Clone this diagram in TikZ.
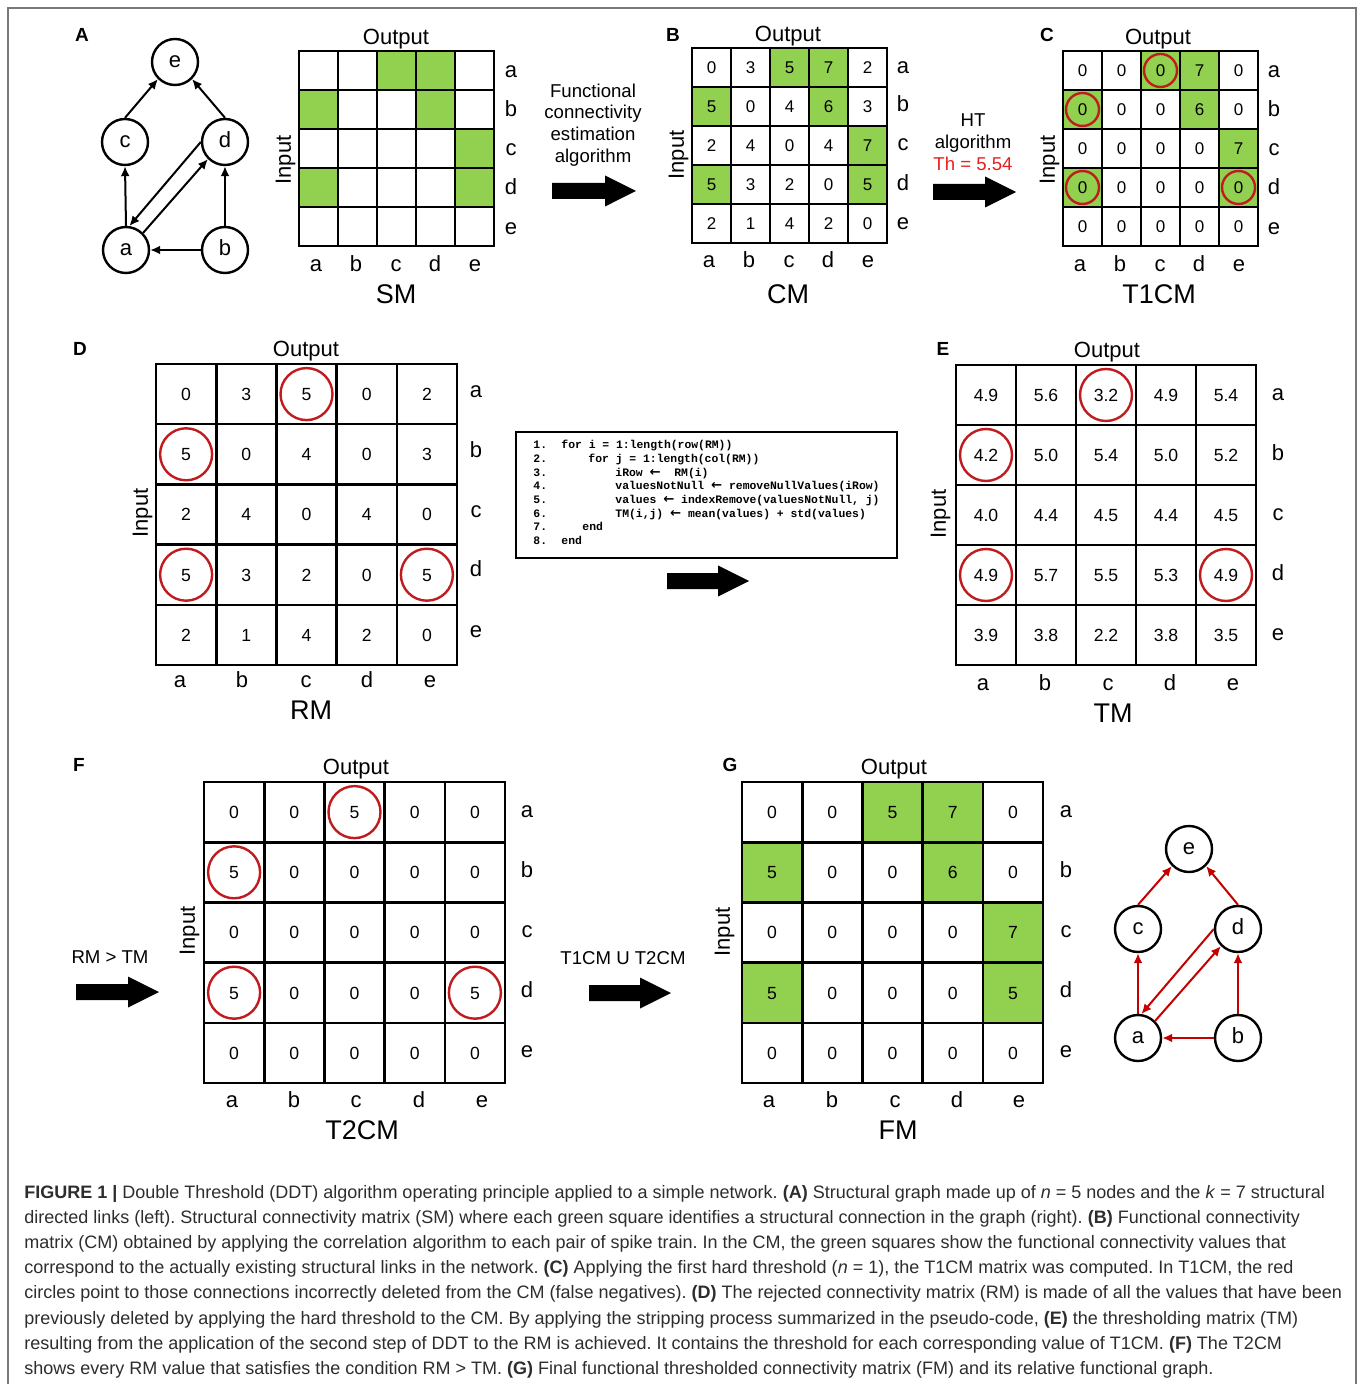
\documentclass[tikz,border=0pt]{standalone}
\usepackage{fontspec}
\setmainfont{Liberation Sans}
\newfontfamily\codefont{Liberation Mono}
\newfontfamily\symfont{DejaVu Sans}
\usetikzlibrary{arrows.meta}
\definecolor{cellgreen}{RGB}{146,208,80}
\definecolor{circred}{RGB}{192,28,32}
\definecolor{thred}{RGB}{232,32,32}
\definecolor{edgered}{RGB}{196,0,0}
\definecolor{capgray}{RGB}{45,45,45}
\definecolor{framegray}{RGB}{120,120,120}
\tikzset{
  gridline/.style={line width=1.3pt, line cap=rect},
  smallnum/.style={inner sep=0pt, text height=6.1pt, text depth=0pt, font=\fontsize{8.5}{10}\selectfont},
  bignum/.style={inner sep=0pt, text height=6.3pt, text depth=0pt, font=\fontsize{8.8}{10}\selectfont},
  axlab/.style={inner sep=0pt, text height=5.7pt, text depth=0pt, font=\fontsize{11}{13}\selectfont},
  outlab/.style={inner sep=0pt, text height=7.9pt, text depth=0pt, font=\fontsize{11}{13}\selectfont},
  ptitle/.style={inner sep=0pt, text height=9.7pt, text depth=0pt, font=\fontsize{13.5}{16}\selectfont},
  plet/.style={inner sep=0pt, text height=6.8pt, text depth=0pt, font=\bfseries\fontsize{9.5}{11}\selectfont},
  arrlab/.style={inner sep=0pt, align=center, font=\fontsize{9.3}{10.9}\selectfont},
  redcirc/.style={draw=circred, line width=1.2pt},
  gnode/.style={draw, circle, line width=1.2pt, minimum size=23pt, inner sep=0pt, text height=5.7pt, text depth=0pt, font=\fontsize{11}{13}\selectfont},
  gedge/.style={line width=1pt, -{Latex[length=5pt,width=4.5pt]}},
  redge/.style={gedge, edgered},
  codetxt/.style={inner sep=0pt, anchor=base west, font=\codefont\bfseries\fontsize{5.7}{6.5}\selectfont},
  captxt/.style={inner sep=0pt, anchor=base west, text=capgray, font=\frenchspacing\fontsize{9.0}{10}\selectfont},
}
\newcommand\larr{{\symfont\bfseries\fontsize{6.6}{7}\selectfont ←}}
% grid: x0, y0, cell
\newcommand\matgrid[3]{%
  \foreach \k in {0,...,5} {
    \draw[gridline] ({#1+\k*#3},#2) -- ({#1+\k*#3},{#2+5*#3});
    \draw[gridline] (#1,{#2+\k*#3}) -- ({#1+5*#3},{#2+\k*#3});
  }%
}
% green cells: x0, y0, cell, list r/c
\newcommand\matgreen[4]{%
  \foreach \gr/\gc in {#4}
    \fill[cellgreen] ({#1+(\gc-1)*#3},{#2+(\gr-1)*#3}) rectangle ++(#3,#3);%
}
% values: name, x0, y0, cell, style, rows
\newcommand\matvals[6]{%
  \foreach \row [count=\ri] in {#6} {
    \foreach \val [count=\ci] in \row {
      \node[#5] (#1-\ri-\ci) at ({#2+(\ci-0.5)*#4},{#3+(\ri-0.5)*#4}) {\val};
    }
  }%
}
% red circles: name, radius, list
\newcommand\matcirc[3]{%
  \foreach \gr/\gc in {#3}
    \draw[redcirc] (#1-\gr-\gc.center) circle (#2);%
}
% labels: name, x of rows, rows list lab/y, y of cols, cols list lab/x
\newcommand\matlabels[5]{%
  \foreach \lab/\yy in {#3}
    \node[axlab] (#1-row-\lab) at (#2,\yy) {\lab};
  \foreach \lab/\xx in {#5}
    \node[axlab] (#1-col-\lab) at (\xx,#4) {\lab};%
}
% block arrow: x0, y, length
\newcommand\blockarrow[3]{%
  \fill ({#1},{#2-8}) -- ({#1+#3-31},{#2-8}) -- ({#1+#3-31},{#2-15.5}) -- ({#1+#3},{#2})
     -- ({#1+#3-31},{#2+15.5}) -- ({#1+#3-31},{#2+8}) -- ({#1},{#2+8}) -- cycle;%
}
\begin{document}
\begin{tikzpicture}[x=0.5pt,y=-0.5pt]
\useasboundingbox (0,0) rectangle (1358,1384);
\fill[white] (0,0) rectangle (1358,1384);
\draw[framegray, line width=0.6pt] (8,1384) -- (8,8) -- (1356,8) -- (1356,1384);

% ================= A =================
\node[plet] (letA) at (82,35) {A};
\node[gnode] (Ae) at (175,62) {e};
\node[gnode] (Ac) at (125,142) {c};
\node[gnode] (Ad) at (225,142) {d};
\node[gnode] (Aa) at (126,250) {a};
\node[gnode] (Ab) at (225,250) {b};
\draw[gedge] (Ac.north) -- (Ae.225);
\draw[gedge] (Ad.north) -- (Ae.315);
\draw[gedge] (Aa.north) -- (Ac.south);
\draw[gedge] (Ab.north) -- (Ad.south);
\draw[gedge] (Ab.west) -- (Aa.east);
\draw[gedge] (Ad.180) -- (Aa.82);
\draw[gedge] (Aa.45) -- (Ad.225);

\matgreen{299}{51}{39}{1/3,1/4,2/1,2/4,3/5,4/1,4/5}
\matgrid{299}{51}{39}
\node[outlab] (outA) at (396,37) {Output};
\node[outlab, rotate=90] (inA) at (283,160) {Input};
\matlabels{SM}{511}{a/72,b/111,c/150,d/189,e/229}{266}{a/316,b/356,c/396,d/435,e/475}
\node[ptitle] (tSM) at (396,294) {SM};

\node[arrlab] (lab1) at (593,125) {Functional\\connectivity\\estimation\\algorithm};
\blockarrow{552}{191}{84}

% ================= B =================
\node[plet] (letB) at (673,35) {B};
\matgreen{692}{48}{39}{1/3,1/4,2/1,2/4,3/5,4/1,4/5}
\matgrid{692}{48}{39}
\matvals{CM}{692}{48}{39}{smallnum}{{0,3,5,7,2},{5,0,4,6,3},{2,4,0,4,7},{5,3,2,0,5},{2,1,4,2,0}}
\node[outlab] (outB) at (788,34) {Output};
\node[outlab, rotate=90] (inB) at (676,155) {Input};
\matlabels{CM}{903}{a/68,b/106,c/145,d/185,e/224}{262}{a/709,b/749,c/789,d/828,e/868}
\node[ptitle] (tCM) at (788,294) {CM};

\node[arrlab] (lab2) at (973,142) {HT\\algorithm\\\textcolor{thred}{Th = 5.54}};
\blockarrow{933}{192}{83}

% ================= C =================
\node[plet] (letC) at (1047,35) {C};
\matgreen{1063}{51}{39}{1/3,1/4,2/1,2/4,3/5,4/1,4/5}
\matgrid{1063}{51}{39}
\matvals{T1}{1063}{51}{39}{smallnum}{{0,0,0,7,0},{0,0,0,6,0},{0,0,0,0,7},{0,0,0,0,0},{0,0,0,0,0}}
\matcirc{T1}{16.5}{1/3,2/1,4/1,4/5}
\node[outlab] (outC) at (1158,37) {Output};
\node[outlab, rotate=90] (inC) at (1047,160) {Input};
\matlabels{T1}{1274}{a/72,b/111,c/150,d/189,e/229}{266}{a/1080,b/1120,c/1160,d/1199,e/1239}
\node[ptitle] (tT1) at (1159,294) {T1CM};

% ================= D =================
\node[plet] (letD) at (80,349) {D};
\matgrid{156}{364}{60.2}
\matvals{RM}{156}{364}{60.2}{bignum}{{0,3,5,0,2},{5,0,4,0,3},{2,4,0,4,0},{5,3,2,0,5},{2,1,4,2,0}}
\matcirc{RM}{26}{1/3,2/1,4/1,4/5}
\node[outlab] (outD) at (306,349) {Output};
\node[outlab, rotate=90] (inD) at (140,513) {Input};
\matlabels{RM}{476}{a/392,b/452,c/512,d/571,e/632}{682}{a/180,b/242,c/306,d/367,e/430}
\node[ptitle] (tRM) at (311,710) {RM};

% pseudo-code
\node[draw, line width=1.1pt, minimum width=190.5pt, minimum height=63pt, inner sep=0pt] (codebox) at (706.5,495) {};
\node[codetxt] (n1) at (533,449) {1.};
\node[codetxt] (n2) at (533,462.6) {2.};
\node[codetxt] (n3) at (533,476.2) {3.};
\node[codetxt] (n4) at (533,489.8) {4.};
\node[codetxt] (n5) at (533,503.4) {5.};
\node[codetxt] (n6) at (533,517) {6.};
\node[codetxt] (n7) at (533,530.6) {7.};
\node[codetxt] (n8) at (533,544.2) {8.};
\node[codetxt] (c1) at (561,449) {for i = 1:length(row(RM))};
\node[codetxt] (c2) at (588,462.6) {for j = 1:length(col(RM))};
\node[codetxt] (c3) at (615,476.2) {iRow \larr\ \ RM(i)};
\node[codetxt] (c4) at (615,489.8) {valuesNotNull \larr\ removeNullValues(iRow)};
\node[codetxt] (c5) at (615,503.4) {values \larr\ indexRemove(valuesNotNull, j)};
\node[codetxt] (c6) at (615,517) {TM(i,j) \larr\ mean(values) + std(values)};
\node[codetxt] (c7) at (582,530.6) {end};
\node[codetxt] (c8) at (561,544.2) {end};
\blockarrow{667}{581}{82}

% ================= E =================
\node[plet] (letE) at (943,349) {E};
\matgrid{956}{365}{60}
\matvals{TM}{956}{365}{60}{bignum}{{4.9,5.6,3.2,4.9,5.4},{4.2,5.0,5.4,5.0,5.2},{4.0,4.4,4.5,4.4,4.5},{4.9,5.7,5.5,5.3,4.9},{3.9,3.8,2.2,3.8,3.5}}
\matcirc{TM}{26}{1/3,2/1,4/1,4/5}
\node[outlab] (outE) at (1107,350) {Output};
\node[outlab, rotate=90] (inE) at (938,514) {Input};
\matlabels{TM}{1278}{a/395,b/455,c/515,d/575,e/635}{685}{a/983,b/1045,c/1108,d/1170,e/1233}
\node[ptitle] (tTM) at (1113,713) {TM};

% ================= F =================
\node[plet] (letF) at (79,765) {F};
\node[arrlab] (lab3) at (110,957) {RM > TM};
\blockarrow{76}{992}{83}
\matgrid{204}{782}{60.2}
\matvals{T2}{204}{782}{60.2}{bignum}{{0,0,5,0,0},{5,0,0,0,0},{0,0,0,0,0},{5,0,0,0,5},{0,0,0,0,0}}
\matcirc{T2}{26}{1/3,2/1,4/1,4/5}
\node[outlab] (outF) at (356,767) {Output};
\node[outlab, rotate=90] (inF) at (187,931) {Input};
\matlabels{T2}{527}{a/812,b/872,c/932,d/992,e/1052}{1102}{a/232,b/294,c/356,d/419,e/482}
\node[ptitle] (tT2) at (362,1130) {T2CM};

\node[arrlab] (lab4) at (623,958) {T1CM U T2CM};
\blockarrow{589}{993}{82}

% ================= G =================
\node[plet] (letG) at (730,765) {G};
\matgreen{742}{782}{60.2}{1/3,1/4,2/1,2/4,3/5,4/1,4/5}
\matgrid{742}{782}{60.2}
\matvals{FM}{742}{782}{60.2}{bignum}{{0,0,5,7,0},{5,0,0,6,0},{0,0,0,0,7},{5,0,0,0,5},{0,0,0,0,0}}
\node[outlab] (outG) at (894,767) {Output};
\node[outlab, rotate=90] (inG) at (722,932) {Input};
\matlabels{FM}{1066}{a/812,b/872,c/932,d/992,e/1052}{1102}{a/769,b/832,c/895,d/957,e/1019}
\node[ptitle] (tFM) at (898,1130) {FM};

\node[gnode] (Ge) at (1189,849) {e};
\node[gnode] (Gc) at (1138,929) {c};
\node[gnode] (Gd) at (1238,929) {d};
\node[gnode] (Ga) at (1138,1038) {a};
\node[gnode] (Gb) at (1238,1038) {b};
\draw[redge] (Gc.north) -- (Ge.225);
\draw[redge] (Gd.north) -- (Ge.315);
\draw[redge] (Ga.north) -- (Gc.south);
\draw[redge] (Gb.north) -- (Gd.south);
\draw[redge] (Gb.west) -- (Ga.east);
\draw[redge] (Gd.180) -- (Ga.82);
\draw[redge] (Ga.45) -- (Gd.225);

% ================= caption =================
\node[captxt] (cap1) at (24,1198) {\textbf{FIGURE 1 |} Double Threshold (DDT) algorithm operating principle applied to a simple network. \textbf{(A)} Structural graph made up of \textit{n} = 5 nodes and the \textit{k} = 7 structural};
\node[captxt] (cap2) at (24,1223) {directed links (left). Structural connectivity matrix (SM) where each green square identifies a structural connection in the graph (right). \textbf{(B)} Functional connectivity};
\node[captxt] (cap3) at (24,1248) {matrix (CM) obtained by applying the correlation algorithm to each pair of spike train. In the CM, the green squares show the functional connectivity values that};
\node[captxt] (cap4) at (24,1273) {correspond to the actually existing structural links in the network. \textbf{(C)} Applying the first hard threshold (\textit{n} = 1), the T1CM matrix was computed. In T1CM, the red};
\node[captxt] (cap5) at (24,1298) {circles point to those connections incorrectly deleted from the CM (false negatives). \textbf{(D)} The rejected connectivity matrix (RM) is made of all the values that have been};
\node[captxt] (cap6) at (24,1324) {previously deleted by applying the hard threshold to the CM. By applying the stripping process summarized in the pseudo-code, \textbf{(E)} the thresholding matrix (TM)};
\node[captxt] (cap7) at (24,1349) {resulting from the application of the second step of DDT to the RM is achieved. It contains the threshold for each corresponding value of T1CM. \textbf{(F)} The T2CM};
\node[captxt] (cap8) at (24,1374) {shows every RM value that satisfies the condition RM > TM. \textbf{(G)} Final functional thresholded connectivity matrix (FM) and its relative functional graph.};
\end{tikzpicture}
\end{document}
